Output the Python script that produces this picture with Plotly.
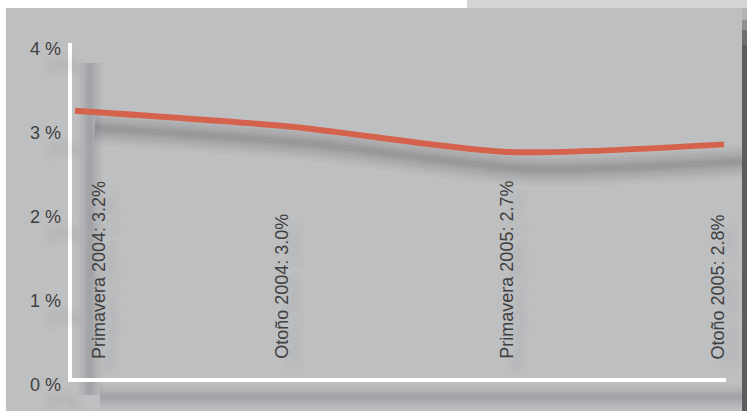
import plotly.graph_objects as go

# ---- data ----
seasons = ["Primavera 2004", "Otoño 2004", "Primavera 2005", "Otoño 2005"]
values = [3.26, 3.07, 2.77, 2.86]
value_labels = ["3.2%", "3.0%", "2.7%", "2.8%"]
y_ticks = [0, 1, 2, 3, 4]
y_ticktext = ["0 %", "1 %", "2 %", "3 %", "4 %"]

# ---- layout geometry (pixels) ----
W, H = 747, 411
ML, MR, MT, MB = 70, 0, 43, 26
PW, PH = W - ML - MR, H - MT - MB
x_idx = list(range(len(seasons)))
XPX = 216.33  # px per category step
x0_px = 75    # pixel of first category
x_range = [(ML - x0_px) / XPX, (W - MR - x0_px) / XPX]
y_range = [0, 4.065]
YPX = PH / (y_range[1] - y_range[0])


def px(xp):
    return (xp - ML) / PW


def py(yp):
    return (H - MB - yp) / PH


FONT = "Liberation Sans, Arial, sans-serif"
TXT = "#404040"
BG = "#bebfc1"
LINE = "#d5624c"
SHADOW_DX, SHADOW_DY = 20, 17
TICK_SHADOW = "18px 17px 9px rgba(60,60,65,0.22)"
LABEL_SHADOW = "-12px 12px 9px rgba(60,60,65,0.12)"

BLUR = [(34, 0.03), (27, 0.035), (21, 0.04), (15, 0.045), (10, 0.05), (6, 0.05)]
AXBLUR = [(26, 0.025), (20, 0.03), (14, 0.035), (9, 0.04), (5, 0.04)]

fig = go.Figure()

# shadow of the data line (stacked soft strokes)
sx = [x + SHADOW_DX / XPX for x in x_idx]
sy = [v - SHADOW_DY / YPX for v in values]
for w_, a_ in BLUR:
    fig.add_trace(go.Scatter(
        x=sx, y=sy, mode="lines",
        line=dict(color=f"rgba(35,35,40,{a_})", width=w_, shape="spline", smoothing=0.7),
        hoverinfo="skip", showlegend=False))

# main line
fig.add_trace(go.Scatter(
    x=x_idx, y=values, mode="lines",
    line=dict(color=LINE, width=6, shape="spline", smoothing=0.7),
    showlegend=False))

shapes = []
# outer frame pieces
shapes.append(dict(type="rect", xref="paper", yref="paper", x0=px(0), x1=px(6), y0=py(0), y1=py(H),
                   fillcolor="white", line_width=0, layer="below"))
shapes.append(dict(type="rect", xref="paper", yref="paper", x0=px(0), x1=px(467), y0=py(0), y1=py(8),
                   fillcolor="white", line_width=0, layer="below"))
shapes.append(dict(type="rect", xref="paper", yref="paper", x0=px(467), x1=px(W), y0=py(0), y1=py(8),
                   fillcolor="#d4d5d7", line_width=0, layer="below"))

# axis shadows
for w_, a_ in AXBLUR:
    col = f"rgba(35,35,40,{a_})"
    shapes.append(dict(type="line", xref="paper", yref="paper",
                       x0=px(70 + SHADOW_DX), x1=px(70 + SHADOW_DX), y0=py(46 + SHADOW_DY), y1=py(378 + SHADOW_DY),
                       line=dict(color=col, width=w_), layer="below"))
    shapes.append(dict(type="line", xref="paper", yref="paper",
                       x0=px(80 + SHADOW_DX), x1=px(722 + SHADOW_DX), y0=py(380 + SHADOW_DY), y1=py(380 + SHADOW_DY),
                       line=dict(color=col, width=w_), layer="below"))

# white axis lines
shapes.append(dict(type="line", xref="paper", yref="paper", x0=px(70), x1=px(70), y0=py(43), y1=py(382),
                   line=dict(color="white", width=4), layer="below"))
shapes.append(dict(type="line", xref="paper", yref="paper", x0=px(68), x1=px(726), y0=py(380), y1=py(380),
                   line=dict(color="white", width=4), layer="below"))

# right dark edge (drawn above shadows)
for (ya, yb, c) in [(8, 20, "#b4b5b7"), (20, 30, "#8e8f91"), (30, 45, "#6e6f71"), (45, H, "#5c5d5f")]:
    shapes.append(dict(type="rect", xref="paper", yref="paper", x0=px(742), x1=px(W), y0=py(ya), y1=py(yb),
                       fillcolor=c, line_width=0, layer="above"))

# rotated category labels
label_xshift = [24, -10, -1, -6]
annotations = []
for i, (s, v) in enumerate(zip(seasons, value_labels)):
    annotations.append(dict(
        x=x_idx[i], y=0, xref="x", yref="y", text=f"{s}: {v}", showarrow=False,
        textangle=-90, xanchor="center", yanchor="bottom", xshift=label_xshift[i], yshift=24,
        font=dict(family=FONT, size=18, color=TXT, shadow=LABEL_SHADOW)))

fig.update_layout(
    width=W, height=H,
    margin=dict(l=ML, r=MR, t=MT, b=MB, pad=0),
    paper_bgcolor=BG, plot_bgcolor="rgba(0,0,0,0)",
    shapes=shapes, annotations=annotations,
    xaxis=dict(range=x_range, visible=False, fixedrange=True),
    yaxis=dict(range=y_range, tickvals=y_ticks, ticktext=y_ticktext, showgrid=False, zeroline=False,
               showline=False, ticks="", ticklabelstandoff=8,
               tickfont=dict(family=FONT, size=18, color=TXT, shadow=TICK_SHADOW), fixedrange=True),
    showlegend=False,
)

fig.write_html("out.html", config={"displayModeBar": False})
